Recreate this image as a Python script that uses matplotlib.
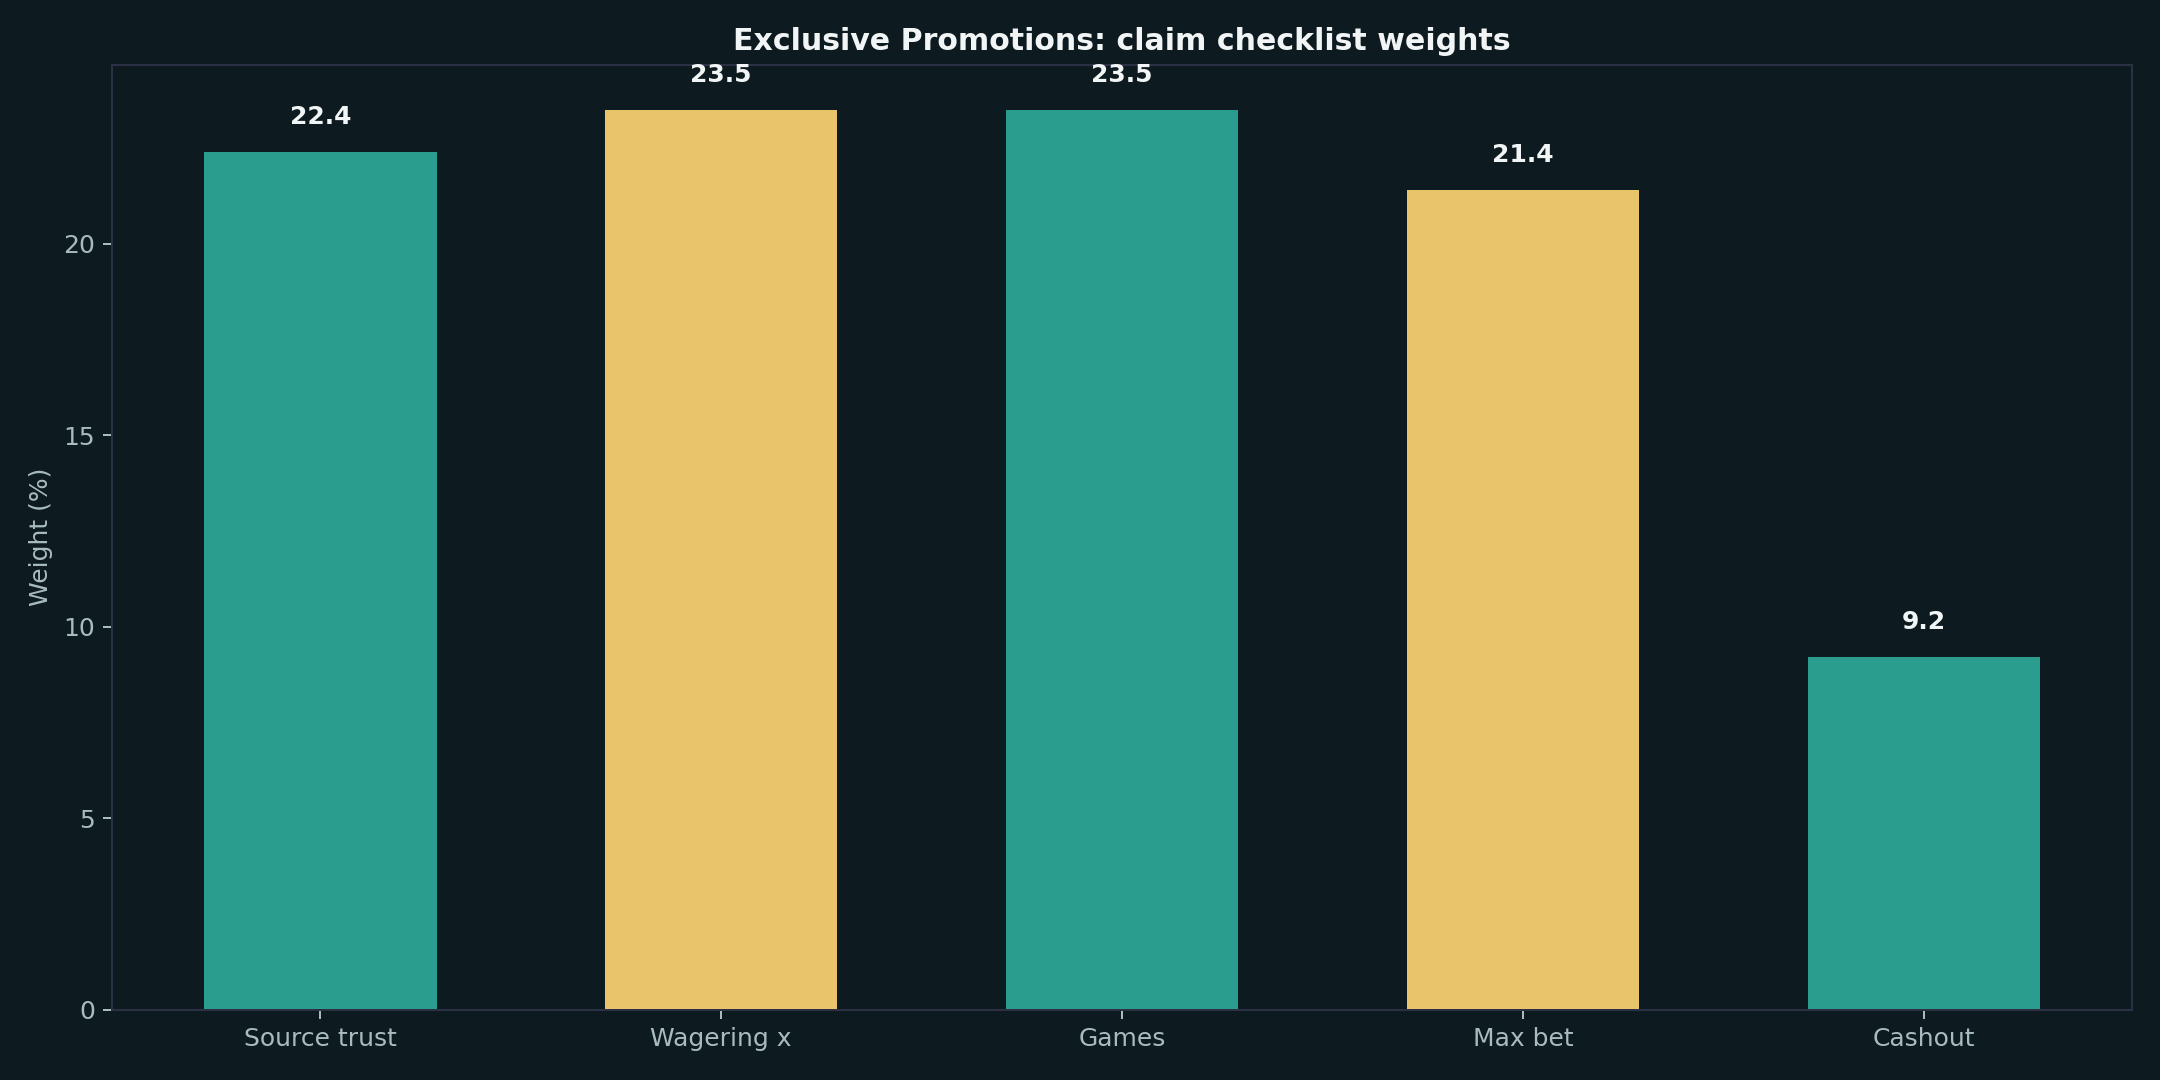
import matplotlib
matplotlib.use('Agg')
from matplotlib import pyplot as plt

# chart data
categories = ['Source trust', 'Wagering x', 'Games', 'Max bet', 'Cashout']
weights = [22.4, 23.5, 23.5, 21.4, 9.2]
bar_colors = ['#2a9d8f', '#e9c46a', '#2a9d8f', '#e9c46a', '#2a9d8f']

BG = '#0d1a20'
TEXT = '#f1f5f5'
MUTED = '#a9bcbc'
SPINE = '#2b3045'

fig, ax = plt.subplots(figsize=(12, 6), dpi=180)
fig.patch.set_facecolor(BG)
ax.set_facecolor(BG)

bars = ax.bar(categories, weights, color=bar_colors, width=0.58)

for rect, val in zip(bars, weights):
    ax.text(rect.get_x() + rect.get_width() / 2, val + 0.6, f'{val:.1f}',
            ha='center', va='bottom', color=TEXT, fontsize=10, fontweight='bold')

ax.set_ylim(0, max(weights) * 1.05)
ax.set_title('Exclusive Promotions: claim checklist weights',
             color=TEXT, fontsize=12, fontweight='bold', pad=6)
ax.set_ylabel('Weight (%)', color=MUTED, fontsize=10)
ax.tick_params(colors=MUTED, labelsize=10)
for sp in ax.spines.values():
    sp.set_color(SPINE)

plt.subplots_adjust(left=0.052, right=0.987, top=0.94, bottom=0.065)
plt.savefig('out.png', dpi=180, facecolor=BG)
plt.close()
